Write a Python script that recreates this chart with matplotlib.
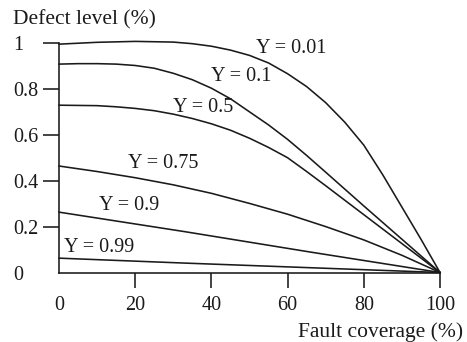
import matplotlib
matplotlib.use("Agg")
import matplotlib.pyplot as plt

plt.rcParams['font.family'] = ['Liberation Serif', 'DejaVu Serif']

# Fault coverage (%) and defect level (%) readings per yield curve
x_y001 = [0, 10, 20, 30, 35, 40, 45, 50, 55, 60, 65, 70, 75, 80, 85, 90, 95, 100]
d_y001 = [0.995, 1.003, 1.007, 1.004, 0.997, 0.986, 0.969, 0.946, 0.913, 0.866,
          0.81, 0.74, 0.655, 0.555, 0.425, 0.285, 0.145, 0]

x_y01 = [0, 5, 10, 15, 20, 25, 30, 35, 40, 45, 50, 55, 60, 65, 70, 80, 90, 100]
d_y01 = [0.908, 0.910, 0.910, 0.908, 0.902, 0.89, 0.868, 0.84, 0.803, 0.757,
         0.70, 0.643, 0.58, 0.51, 0.437, 0.29, 0.145, 0]

x_y05 = [0, 10, 15, 20, 25, 30, 35, 40, 45, 50, 55, 60, 65, 70, 80, 90, 100]
d_y05 = [0.729, 0.727, 0.722, 0.715, 0.705, 0.69, 0.671, 0.648, 0.62, 0.585,
         0.545, 0.5, 0.44, 0.378, 0.252, 0.126, 0]

x_y075 = [0, 10, 20, 30, 40, 50, 60, 70, 80, 90, 100]
d_y075 = [0.464, 0.44, 0.413, 0.382, 0.345, 0.301, 0.254, 0.2, 0.142, 0.075, 0]

x_y09 = [0, 33, 66, 100]
d_y09 = [0.263, 0.178, 0.089, 0]

x_y099 = [0, 33, 100]
d_y099 = [0.0625, 0.041, 0]

labels = ["Y = 0.01", "Y = 0.1", "Y = 0.5", "Y = 0.75", "Y = 0.9", "Y = 0.99"]
label_x = [60.9, 47.9, 37.7, 27.3, 18.4, 10.5]
label_y = [0.978, 0.852, 0.72, 0.476, 0.293, 0.11]

xticks = [0, 20, 40, 60, 80, 100]
yticks = [0, 0.2, 0.4, 0.6, 0.8, 1]
yticklabels = ["0", "0.2", "0.4", "0.6", "0.8", "1"]

fs = 14.5
fs_lab = 15.5
col = "#1a1a1a"

fig = plt.figure(figsize=(4.67, 3.42), dpi=100)
ax = fig.add_axes([59/467, 1 - 272.5/342, (440-59)/467, (272.5-43)/342])

series = [(x_y001, d_y001), (x_y01, d_y01), (x_y05, d_y05),
          (x_y075, d_y075), (x_y09, d_y09), (x_y099, d_y099)]
for xs, ds in series:
    ax.plot(xs, ds, color=col, lw=1.15, clip_on=False, solid_joinstyle='round')

for t, lx, ly in zip(labels, label_x, label_y):
    ax.text(lx, ly, t, fontsize=fs, ha='center', va='center', color=col)

ax.set_xlim(0, 100)
ax.set_ylim(0, 1)
ax.spines['top'].set_visible(False)
ax.spines['right'].set_visible(False)
for s in ['left', 'bottom']:
    ax.spines[s].set_linewidth(1.15)
    ax.spines[s].set_color(col)

ax.set_xticks(xticks)
ax.set_xticklabels([str(v) for v in xticks], fontsize=fs, color=col)
ax.set_yticks(yticks)
ax.set_yticklabels(yticklabels, fontsize=fs, color=col, ha='left')
ax.tick_params(axis='x', direction='out', length=11, width=1.15, pad=6, colors=col)
ax.tick_params(axis='y', direction='out', length=11.5, width=1.15, pad=21.6, colors=col)
ax.xaxis.get_major_ticks()[0].tick1line.set_visible(False)
ax.yaxis.get_major_ticks()[0].tick1line.set_visible(False)

fig.text(13/467, 1 - 20/342, "Defect level (%)", fontsize=fs_lab, ha='left', va='center', color=col)
fig.text(463/467, 1 - 332/342, "Fault coverage (%)", fontsize=fs_lab, ha='right', va='center', color=col)

fig.savefig("out.png", dpi=100)
